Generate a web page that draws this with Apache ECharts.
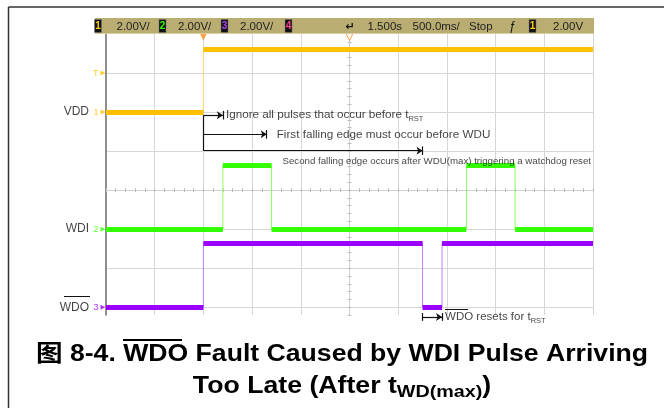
<!DOCTYPE html>
<html><head><meta charset="utf-8">
<script src="https://cdn.jsdelivr.net/npm/echarts@6/dist/echarts.min.js"></script>
<style>html,body{margin:0;padding:0;background:#fff}#c{width:664px;height:408px}</style>
</head><body><div id="c"></div>
<script>
// ---- data (time in s, relative to trigger; amplitudes in V) ----
const tMin = -1, tMax = 4;             // screen time window (500 ms/div, delay 1.5 s)
const voltsPerDiv = 2;
const channelNames = ['VDD', 'WDI', 'WDO'];
const channelNums = ['1', '2', '3'];
const channelOffsets = [2, -1, -3];    // channel ground position, divisions
const highVolts = [3.2, 3.25, 3.3];
const vddEdges = [0];
const wdiEdges = [0.2, 0.7, 2.7, 3.2];
const wdoEdges = [0, 2.25, 2.45];
const triggerLevel = 2.0;
const arrowEnds = [0.2, 0.65, 2.25];
const arrowRows = [1.92, 1.43, 1.01];
const arrowTexts = ['Ignore all pulses that occur before t{s|RST}', 'First falling edge must occur before WDU', ''];
const arrowGaps = [3, 10, 0];
const noteText = 'Second falling edge occurs after WDU(max) triggering a watchdog reset';
const noteRow = 0.745;
const resetSpan = [2.25, 2.45];
const resetRow = -3.25;

const colors = ['#ffc000', '#33ff00', '#9900ff'];
const edgeColors = ['#ffd966', '#8cff66', '#c27cff'];
const FN = "'Liberation Sans Narrow', 'Liberation Sans', sans-serif";

const allEdges = [vddEdges, wdiEdges, wdoEdges];
function segments(i) {
  const times = [tMin].concat(allEdges[i], [tMax]);
  const segs = [];
  for (let k = 0; k < times.length - 1; k++) {
    const v = (k % 2 === 0) ? 0 : highVolts[i];
    segs.push([times[k], times[k + 1], channelOffsets[i] + v / voltsPerDiv]);
  }
  return segs;
}
const series = [];
for (let i = 0; i < 3; i++) {
  const segs = segments(i);
  const thin = [];
  segs.forEach(s => { thin.push([s[0], s[2]]); thin.push([s[1], s[2]]); });
  series.push({ type: 'line', data: thin, showSymbol: false, symbol: 'none', silent: true, z: 3,
    lineStyle: { color: edgeColors[i], width: 1 }, animation: false });
  series.push({ type: 'lines', coordinateSystem: 'cartesian2d', silent: true, z: 4, animation: false,
    lineStyle: { color: colors[i], width: 5, opacity: 1 },
    data: segs.map(s => ({ coords: [[s[0], s[2]], [s[1], s[2]]] })) });
}
// annotation arrows
series.push({ type: 'lines', coordinateSystem: 'cartesian2d', silent: true, z: 6, animation: false, clip: false,
  symbol: ['none', 'arrow'], symbolSize: 6,
  lineStyle: { color: '#111', width: 1.2, opacity: 1 },
  data: arrowEnds.map((e, k) => ({ coords: [[0, arrowRows[k]], [e, arrowRows[k]]] }))
    .concat([{ coords: [[resetSpan[0], resetRow], [resetSpan[1], resetRow]] }]) });
// bracket + end bars
const bars = [{ coords: [[0, arrowRows[0]], [0, arrowRows[2]]] }];
arrowEnds.forEach((e, k) => bars.push({ coords: [[e, arrowRows[k] - 0.11], [e, arrowRows[k] + 0.11]] }));
resetSpan.forEach(e => bars.push({ coords: [[e, resetRow - 0.1], [e, resetRow + 0.1]] }));
series.push({ type: 'lines', coordinateSystem: 'cartesian2d', silent: true, z: 6, animation: false, clip: false,
  lineStyle: { color: '#111', width: 1.2, opacity: 1 }, data: bars });
// annotation texts
const sub = { s: { fontSize: 7.5, fontFamily: FN, color: '#111', padding: [7, 0, 0, 0] } };
series.push({ type: 'scatter', symbolSize: 0, silent: true, clip: false, z: 7, animation: false,
  label: { show: true, position: 'right', fontFamily: FN, fontSize: 11.7, color: '#111', rich: sub },
  data: arrowEnds.map((e, k) => ({ value: [e, arrowRows[k]], label: { formatter: arrowTexts[k], distance: arrowGaps[k] } }))
    .concat([
      { value: [tMax, noteRow], label: { formatter: noteText, position: 'left', distance: 2, fontSize: 9.7 } },
      { value: [resetSpan[1], resetRow], label: { formatter: 'WDO resets for t{s|RST}', distance: 3, fontSize: 11.5 } }
    ]) });
// channel names + markers
series.push({ type: 'scatter', symbolSize: 0, silent: true, clip: false, z: 7, animation: false,
  label: { show: true, position: 'left', distance: 17, fontFamily: FN, fontSize: 12, color: '#111', formatter: '{b}' },
  data: channelOffsets.map((o, i) => ({ value: [tMin, o], name: channelNames[i] })) });
series.push({ type: 'scatter', symbol: 'triangle', symbolRotate: -90, symbolSize: 5, symbolOffset: [-3, 0],
  silent: true, clip: false, z: 7, animation: false,
  label: { show: true, position: 'left', distance: 2, fontFamily: FN, fontSize: 9, formatter: '{b}' },
  data: channelOffsets.map((o, i) => ({ value: [tMin, o], name: channelNums[i], itemStyle: { color: colors[i] }, label: { color: colors[i] } }))
    .concat([{ value: [tMin, channelOffsets[0] + triggerLevel / voltsPerDiv], name: 'T', itemStyle: { color: colors[0] }, label: { color: colors[0] } }]) });
// time markers at top
series.push({ type: 'scatter', symbol: 'triangle', symbolRotate: 180, symbolSize: 7, symbolOffset: [0, 3],
  silent: true, clip: false, z: 8, animation: false,
  data: [{ value: [0, 4], itemStyle: { color: '#ff8c1a' } },
         { value: [1.5, 4], itemStyle: { color: '#fff', borderColor: '#ff8c1a', borderWidth: 1 } }] });

const gridCol = '#d6d6d6';
const hidden = { axisLabel: { show: false }, axisTick: { show: false }, axisLine: { show: false }, splitLine: { show: false } };
const option = {
  animation: false,
  grid: { left: 106, right: 71, top: 34, bottom: 93 },
  xAxis: [
    Object.assign({}, hidden, { type: 'value', min: tMin, max: tMax, interval: 0.5,
      splitLine: { show: true, showMinLine: false, lineStyle: { color: gridCol, width: 1 } } }),
    Object.assign({}, hidden, { type: 'value', min: -2.5, max: 2.5, interval: 0.5,
      axisLine: { show: true, onZero: true, onZeroAxisIndex: 0, lineStyle: { color: '#cfcfcf' } },
      axisTick: { show: true, inside: true, length: 2, lineStyle: { color: '#bbb' } },
      minorTick: { show: true, splitNumber: 5, length: 2, lineStyle: { color: '#bbb' } } }),
    Object.assign({}, hidden, { type: 'value', min: -2.5, max: 2.5, interval: 0.5,
      axisLine: { show: false, onZero: true, onZeroAxisIndex: 0 },
      axisTick: { show: true, inside: false, length: 2, lineStyle: { color: '#bbb' } },
      minorTick: { show: true, splitNumber: 5, length: 2, lineStyle: { color: '#bbb' } } })
  ],
  yAxis: [
    Object.assign({}, hidden, { type: 'value', min: -3.2, max: 4,
      axisLine: { show: true, onZero: false, lineStyle: { color: '#6a6a6a', width: 1.5 } } }),
    Object.assign({}, hidden, { type: 'value', inverse: true, min: -4, max: 3.2, interval: 1,
      splitLine: { show: true, showMinLine: false, showMaxLine: false, lineStyle: { color: gridCol, width: 1 } } }),
    Object.assign({}, hidden, { type: 'value', inverse: true, min: -4, max: 3.2, interval: 1,
      axisLine: { show: true, onZero: true, onZeroAxisIndex: 1, lineStyle: { color: '#cfcfcf' } },
      axisTick: { show: true, inside: true, length: 2, lineStyle: { color: '#bbb' } },
      minorTick: { show: true, splitNumber: 5, length: 2, lineStyle: { color: '#bbb' } } }),
    Object.assign({}, hidden, { type: 'value', inverse: true, min: -4, max: 3.2, interval: 1,
      axisLine: { show: false, onZero: true, onZeroAxisIndex: 1 },
      axisTick: { show: true, inside: false, length: 2, lineStyle: { color: '#bbb' } },
      minorTick: { show: true, splitNumber: 5, length: 2, lineStyle: { color: '#bbb' } } })
  ],
  series: series,
  graphic: []
};

// header bar of the scope
const hdrFont = "11.5px 'Liberation Sans Narrow', sans-serif";
const hdr = [
  { type: 'rect', shape: { x: 95, y: 18, width: 499, height: 16 }, style: { fill: '#b9ad72' }, z: 20 },
  { type: 'line', shape: { x1: 95, y1: 33.5, x2: 594, y2: 33.5 }, style: { stroke: '#d8cf9f', lineWidth: 1 }, z: 21 }
];
function box(x, d, c) {
  hdr.push({ type: 'rect', shape: { x: x, y: 19.5, width: 7, height: 13 }, style: { fill: '#111', stroke: '#777', lineWidth: 0.5 }, z: 21 });
  hdr.push({ type: 'text', x: x + 3.5, y: 26, style: { text: d, fill: c, font: "bold 10px 'Liberation Sans Narrow', sans-serif", align: 'center', verticalAlign: 'middle' }, z: 22 });
}
function htxt(x, t) {
  hdr.push({ type: 'text', x: x, y: 26.5, style: { text: t, fill: '#222', font: hdrFont, verticalAlign: 'middle' }, z: 22 });
}
box(94.5, '1', '#ffd000'); htxt(116.5, '2.00V/');
box(159, '2', '#33ff00'); htxt(178, '2.00V/');
box(221, '3', '#b040ff'); htxt(240, '2.00V/');
box(285, '4', '#ff3f8f');
hdr.push({ type: 'text', x: 350, y: 27, style: { text: '↵', fill: '#111', font: "bold 11px 'DejaVu Sans', sans-serif", align: 'center', verticalAlign: 'middle' }, z: 22 });
htxt(367.5, '1.500s'); htxt(412.5, '500.0ms/'); htxt(469, 'Stop');
hdr.push({ type: 'text', x: 512, y: 26.5, style: { text: 'ƒ', fill: '#111', font: "italic 12px 'Liberation Sans', sans-serif", align: 'center', verticalAlign: 'middle' }, z: 22 });
box(529, '1', '#ffd000'); htxt(553, '2.00V');

// frame + overlines + caption
const capFont = "bold 23px 'Liberation Sans', 'Noto Sans CJK SC', sans-serif";
const deco = [
  { type: 'line', shape: { x1: 8.5, y1: 7, x2: 664, y2: 7 }, style: { stroke: '#333', lineWidth: 1.5 }, z: 30 },
  { type: 'line', shape: { x1: 8.5, y1: 7, x2: 8.5, y2: 408 }, style: { stroke: '#333', lineWidth: 1.5 }, z: 30 },
  { type: 'line', shape: { x1: 64, y1: 296.5, x2: 90, y2: 296.5 }, style: { stroke: '#111', lineWidth: 1 }, z: 30 },
  { type: 'line', shape: { x1: 445, y1: 309.5, x2: 468, y2: 309.5 }, style: { stroke: '#111', lineWidth: 1 }, z: 30 },
  { type: 'line', shape: { x1: 123, y1: 340, x2: 182, y2: 340 }, style: { stroke: '#000', lineWidth: 2 }, z: 30 },
  { type: 'text', x: 342, y: 355, scaleX: 1.157, style: { text: '图 8-4. WDO Fault Caused by WDI Pulse Arriving', fill: '#000', font: capFont, align: 'center', verticalAlign: 'middle' }, z: 30 },
  { type: 'text', x: 342, y: 387, scaleX: 1.16, style: {
      text: '{a|Too Late (After t}{b|WD(max)}{a|)}', align: 'center', verticalAlign: 'middle',
      rich: {
        a: { fontFamily: "'Liberation Sans', sans-serif", fontWeight: 'bold', fontSize: 23, fill: '#000', color: '#000' },
        b: { fontFamily: "'Liberation Sans', sans-serif", fontWeight: 'bold', fontSize: 17, fill: '#000', color: '#000', padding: [10, 0, 0, 0] }
      } }, z: 30 }
];
option.graphic = hdr.concat(deco);

const chart = echarts.init(document.getElementById('c'), null, { renderer: 'canvas' });
chart.setOption(option);
</script></body></html>
